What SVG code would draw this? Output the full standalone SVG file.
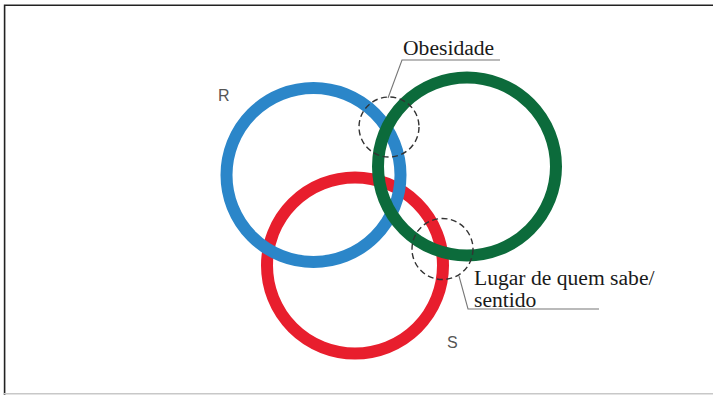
<svg xmlns="http://www.w3.org/2000/svg" width="713" height="395" viewBox="0 0 713 395">
<style>
.ring{fill:none;stroke-width:12}
.dash{fill:none;stroke:#333;stroke-width:1.4;stroke-dasharray:6 3.5}
.lead{fill:none;stroke:#777;stroke-width:1.1}
.lbl{font-family:"Liberation Serif","Times New Roman",serif;font-size:21.6px;fill:#1a1a1a}
.cap{font-family:"Liberation Sans",Arial,sans-serif;font-size:16px;fill:#555}
</style>
<rect x="0" y="0" width="713" height="395" fill="#fff"/>
<path d="M4.6,395 V5.2 H713" fill="none" stroke="#222" stroke-width="1.6"/>
<line x1="4" y1="393.8" x2="713" y2="393.8" stroke="#c8c8c8" stroke-width="1.5"/>
<g id="ring-red"><circle class="ring" cx="355" cy="265.5" r="88" stroke="#e81e2d"/></g>
<g id="ring-blue"><circle class="ring" cx="313.5" cy="175" r="87" stroke="#2b86c9"/></g>
<g id="ring-green"><circle class="ring" cx="467" cy="166.5" r="89" stroke="#0c6b3b"/></g>
<g id="label-R"><text class="cap" x="218" y="100.5">R</text></g>
<g id="label-S"><text class="cap" x="447" y="348">S</text></g>
<g id="obesidade">
<circle class="dash" cx="389" cy="127" r="30"/>
<text class="lbl" x="403" y="55">Obesidade</text>
</g>
<g id="lugar">
<circle class="dash" cx="442.5" cy="249" r="30.5"/>
<text class="lbl" x="474" y="285">Lugar de quem sabe/</text>
<text class="lbl" x="474" y="306.5">sentido</text>
</g>
<g id="connectors">
<polyline class="lead" points="388,98 402,60 500,60"/>
<polyline class="lead" points="459,276 468,309 599,309"/>
</g>
</svg>
